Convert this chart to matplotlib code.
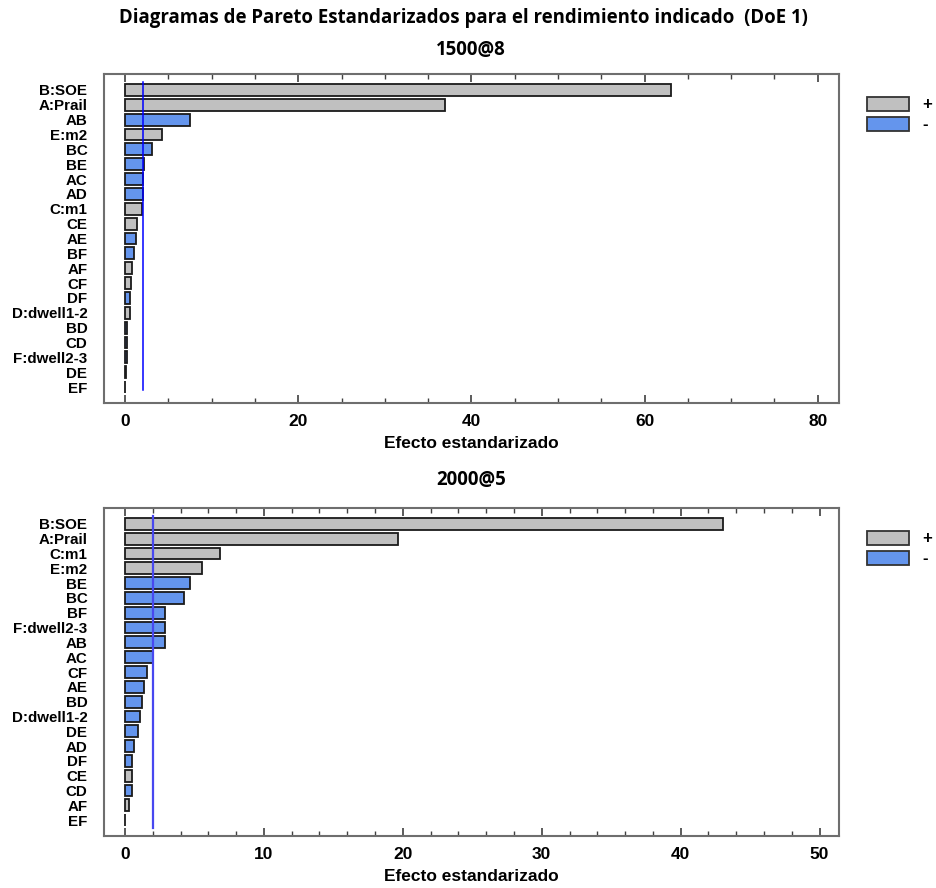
import matplotlib
matplotlib.use("Agg")
import matplotlib.pyplot as plt
from matplotlib.patches import Rectangle
from matplotlib.ticker import MultipleLocator

# ---------------- data ----------------
title_main = "Diagramas de Pareto Estandarizados para el rendimiento indicado  (DoE 1)"

sub1 = "1500@8"
labels1 = ["B:SOE", "A:Prail", "AB", "E:m2", "BC", "BE", "AC", "AD", "C:m1", "CE",
           "AE", "BF", "AF", "CF", "DF", "D:dwell1-2", "BD", "CD", "F:dwell2-3", "DE", "EF"]
effects1 = [63.0, 37.0, 7.45, 4.3, 3.1, 2.22, 2.12, 2.1, 1.95, 1.42,
            1.25, 1.03, 0.82, 0.71, 0.54, 0.54, 0.27, 0.27, 0.25, 0.1, 0.0]
signs1 = ["+", "+", "-", "+", "-", "-", "-", "-", "+", "+",
          "-", "-", "+", "+", "-", "+", "-", "-", "-", "-", "+"]
limit1 = 2.05
xticks_major1 = 20
xticks_minor1 = 5

sub2 = "2000@5"
labels2 = ["B:SOE", "A:Prail", "C:m1", "E:m2", "BE", "BC", "BF", "F:dwell2-3", "AB", "AC",
           "CF", "AE", "BD", "D:dwell1-2", "DE", "AD", "DF", "CE", "CD", "AF", "EF"]
effects2 = [43.03, 19.63, 6.87, 5.54, 4.66, 4.25, 2.89, 2.89, 2.89, 2.0,
            1.56, 1.39, 1.19, 1.09, 0.95, 0.68, 0.54, 0.54, 0.48, 0.31, 0.0]
signs2 = ["+", "+", "+", "+", "-", "-", "-", "-", "-", "-",
          "-", "-", "-", "-", "-", "-", "-", "+", "-", "+", "+"]
limit2 = 2.01
xticks_major2 = 10
xticks_minor2 = 2

xlabel = "Efecto estandarizado"
legend_labels = ["+", "-"]

# ---------------- style ----------------
W, H = 936, 888
DPI = 100
GRAY = "#C0C0C0"
BLUE = "#6495ED"
EDGE = "#1a1a1a"
FRAME = "#6e6e6e"
colors = {"+": GRAY, "-": BLUE}

fig = plt.figure(figsize=(W / DPI, H / DPI), dpi=DPI)
fig.patch.set_facecolor("white")

title_font = ["Open Sans", "DejaVu Sans"]
lab_font = ["Liberation Sans", "DejaVu Sans"]


def fx(px):
    return px / W


def fy(py):
    return 1 - py / H


fig.text(fx(463), fy(18), title_main, ha="center", va="center", fontsize=13.4,
         fontweight="bold", family=title_font)


def pareto(ax_box, sub, sub_y, labels, effects, signs, limit, xlim, major, minor):
    ax = fig.add_axes(ax_box)
    fig.text(fx(471), fy(sub_y), sub, ha="center", va="center", fontsize=13.4,
             fontweight="bold", family=title_font)
    n = len(labels)
    ypos = list(range(n))
    ax.barh(ypos, effects, height=0.8, left=0,
            color=[colors[s] for s in signs], edgecolor=EDGE, linewidth=1.3)
    ax.set_ylim(n - 1 + 1.07, -1.07)
    ax.set_xlim(*xlim)
    ax.set_yticks(ypos)
    ax.set_yticklabels(labels, fontsize=10.9, fontweight="bold", family=lab_font)
    ax.tick_params(axis="y", length=0, pad=12)
    ax.xaxis.set_major_locator(MultipleLocator(major))
    ax.xaxis.set_minor_locator(MultipleLocator(minor))
    ax.tick_params(axis="x", which="both", direction="in", top=True, bottom=True,
                   color="#404040")
    ax.tick_params(axis="x", which="major", length=6, width=1.2, pad=8,
                   labelsize=12.5)
    ax.tick_params(axis="x", which="minor", length=3.5, width=1.0)
    for lbl in ax.get_xticklabels():
        lbl.set_fontweight("bold")
        lbl.set_family(lab_font)
    ax.set_xlabel(xlabel, fontsize=12.5, fontweight="bold", family=lab_font,
                  labelpad=5)
    for sp in ax.spines.values():
        sp.set_color(FRAME)
        sp.set_linewidth(1.5)
    return ax


ax1 = pareto([fx(104), fy(403), fx(735), (403 - 74) / H], sub1, 50,
             labels1, effects1, signs1, limit1, (-2.43, 82.45),
             xticks_major1, xticks_minor1)
ax1.plot([limit1, limit1], [-0.5, 20.2], color="#0000FF", linewidth=1.1)

ax2 = pareto([fx(104), fy(836), fx(735), (836 - 508) / H], sub2, 480,
             labels2, effects2, signs2, limit2, (-1.51, 51.4),
             xticks_major2, xticks_minor2)
ax2.plot([limit2, limit2], [-0.5, 20.5], color="#4848F0", linewidth=1.6)


def legend(top_px):
    for i, (lab, col) in enumerate(zip(legend_labels, [GRAY, BLUE])):
        y0 = top_px + i * 20
        r = Rectangle((fx(867), fy(y0 + 14)), fx(42), 14 / H, transform=fig.transFigure,
                      facecolor=col, edgecolor="#333333", linewidth=1.3)
        fig.add_artist(r)
        fig.text(fx(922), fy(y0 + 7), lab, ha="left", va="center", fontsize=12,
                 fontweight="bold", family=lab_font)


legend(97)
legend(531)

fig.savefig("out.png", dpi=DPI, facecolor="white")
